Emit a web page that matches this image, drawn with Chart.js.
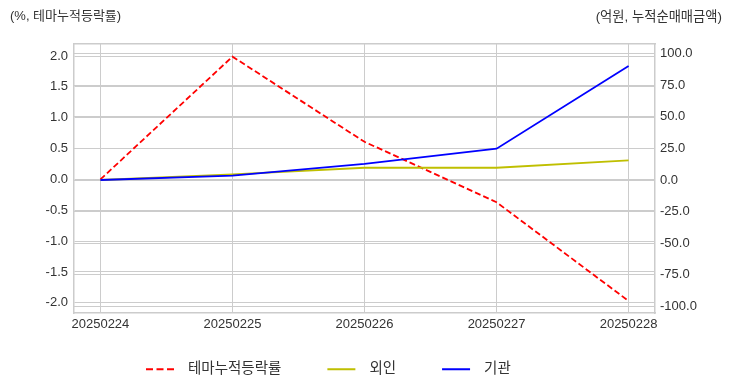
<!DOCTYPE html>
<html><head><meta charset="utf-8">
<script src="https://cdn.jsdelivr.net/npm/chart.js@4"></script>
<style>
html,body{margin:0;padding:0;background:#fff;}
#wrap{position:relative;width:732px;height:392px;}
.note{position:absolute;font-family:'Liberation Sans','Noto Sans CJK KR',sans-serif;font-size:13px;color:#333;line-height:16px;white-space:nowrap;}
#nl{left:10px;top:8px;}
#nr{right:10px;top:9px;font-size:13.3px;}
</style></head><body>
<div id="wrap"><canvas id="c" width="732" height="392"></canvas>
<div class="note" id="nl">(%, 테마누적등락률)</div>
<div class="note" id="nr">(억원, 누적순매매금액)</div></div>
<script>
const categories = ['20250224','20250225','20250226','20250227','20250228'];
const themeReturn = [0, 1.99, 0.61, -0.37, -1.97];
const foreignNet = [0, 4.5, 9.7, 9.7, 15.5];
const instNet = [0, 3.4, 12.8, 24.8, 90.1];
const leftTicks = [-2, -1.5, -1, -0.5, 0, 0.5, 1, 1.5, 2];
const rightTicks = [-100, -75, -50, -25, 0, 25, 50, 75, 100];
const seriesLabels = ['테마누적등락률', '외인', '기관'];

const FONT = "'Liberation Sans','Noto Sans CJK KR',sans-serif";
Chart.defaults.font.family = FONT;
Chart.defaults.font.size = 13;
Chart.defaults.color = '#333';

const toPts = arr => arr.map((v, i) => ({x: i, y: v}));
const G = 36, P = 10, LFS = 14.5;
const GRID = '#cccccc';

const legendShift = {
  id: 'legendShift',
  afterLayout(chart) {
    if (chart.legend) chart.legend.left = 100;
  }
};

new Chart(document.getElementById('c'), {
  type: 'line',
  data: {
    datasets: [
      {label: seriesLabels[0], data: toPts(themeReturn), yAxisID: 'y', borderColor: '#ff0000', backgroundColor: '#ff0000',
       borderWidth: 1.8, borderDash: [6, 3], pointRadius: 0, order: 3, tension: 0},
      {label: seriesLabels[1], data: toPts(foreignNet), yAxisID: 'y1', borderColor: '#bfbf00', backgroundColor: '#bfbf00',
       borderWidth: 1.8, pointRadius: 0, order: 2, tension: 0},
      {label: seriesLabels[2], data: toPts(instNet), yAxisID: 'y1', borderColor: '#0000ff', backgroundColor: '#0000ff',
       borderWidth: 1.8, pointRadius: 0, order: 1, tension: 0}
    ]
  },
  options: {
    responsive: false,
    animation: false,
    devicePixelRatio: 1,
    layout: {padding: {top: 44, bottom: 5.5, left: 0, right: 0}},
    plugins: {
      tooltip: {enabled: false},
      legend: {
        position: 'bottom',
        align: 'start',
        labels: {
          usePointStyle: true,
          pointStyle: 'line',
          pointStyleWidth: G + 42 - LFS / 2,
          padding: P,
          color: '#333',
          font: {size: LFS},
          sort: (a, b) => a.datasetIndex - b.datasetIndex,
          generateLabels(chart) {
            const items = Chart.defaults.plugins.legend.labels.generateLabels(chart);
            items.forEach(it => {
              const ds = chart.data.datasets[it.datasetIndex];
              it.lineDash = (ds.borderDash && ds.borderDash.length)
                ? [0, G, 7, 3.5, 7, 3.5, 7, 1000]
                : [0, G, 28, 1000];
              it.lineWidth = 1.8;
            });
            return items;
          }
        }
      }
    },
    scales: {
      x: {
        type: 'linear', position: 'bottom', min: -0.2, max: 4.2,
        afterBuildTicks: s => { s.ticks = categories.map((c, i) => ({value: i})); },
        afterFit: s => { s.height = 39; },
        ticks: {padding: 4, maxRotation: 0, autoSkip: false, callback: v => categories[v]},
        grid: {color: GRID, lineWidth: 1, drawTicks: false},
        border: {display: true, color: GRID, width: 1.5}
      },
      x2: {
        type: 'linear', position: 'top', display: true,
        grid: {display: false, drawTicks: false},
        ticks: {display: false},
        border: {display: true, color: GRID, width: 1.5},
        afterFit: s => { s.height = 0; }
      },
      y: {
        type: 'linear', position: 'left', min: -2.165, max: 2.195,
        afterBuildTicks: s => { s.ticks = leftTicks.map(v => ({value: v})); },
        afterFit: s => { s.width = 74; },
        ticks: {padding: 6, callback: v => Number(v).toFixed(1)},
        grid: {color: GRID, lineWidth: 1, drawTicks: false},
        border: {display: true, color: GRID, width: 1.5}
      },
      y1: {
        type: 'linear', position: 'right', min: -105.1, max: 107.5,
        afterBuildTicks: s => { s.ticks = rightTicks.map(v => ({value: v})); },
        afterFit: s => { s.width = 77; },
        ticks: {padding: 5, callback: v => Number(v).toFixed(1)},
        grid: {color: GRID, lineWidth: 1, drawTicks: false},
        border: {display: true, color: GRID, width: 1.5}
      }
    }
  },
  plugins: [legendShift]
});
</script>
</body></html>
